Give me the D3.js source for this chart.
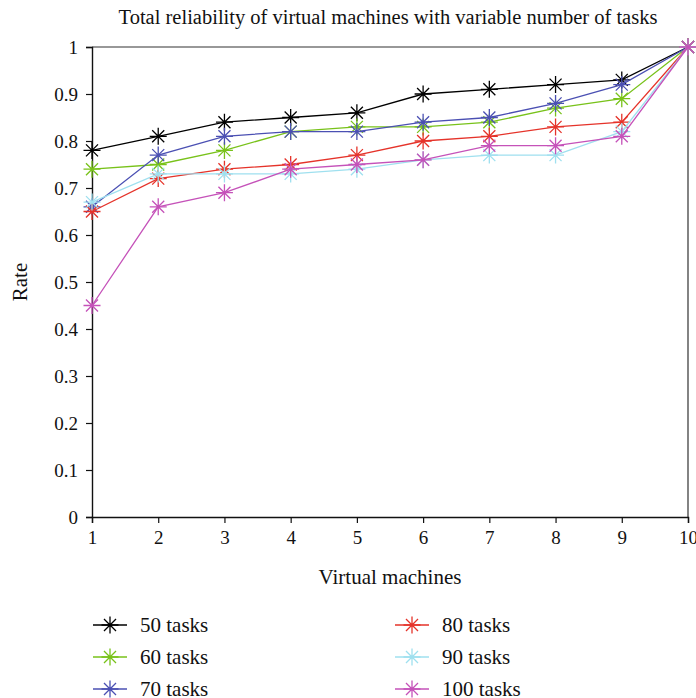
<!DOCTYPE html>
<html>
<head>
<meta charset="utf-8">
<script src="https://cdn.jsdelivr.net/npm/d3@7"></script>
<style>
  body { margin: 0; background: #fff; }
  text { font-family: "Liberation Serif", "DejaVu Serif", serif; fill: #111; }
</style>
</head>
<body>
<div id="viz"></div>
<script>
  var machines = [1, 2, 3, 4, 5, 6, 7, 8, 9, 10];
  var seriesNames = ['50 tasks', '60 tasks', '70 tasks', '80 tasks', '90 tasks', '100 tasks'];
  var seriesColors = ['#000000', '#78c21a', '#4b50b3', '#e5332a', '#9fe0ef', '#c552b9'];
  var tasks50 = [0.78, 0.81, 0.84, 0.85, 0.86, 0.90, 0.91, 0.92, 0.93, 1.0];
  var tasks60 = [0.74, 0.75, 0.78, 0.82, 0.83, 0.83, 0.84, 0.87, 0.89, 1.0];
  var tasks70 = [0.66, 0.77, 0.81, 0.82, 0.82, 0.84, 0.85, 0.88, 0.92, 1.0];
  var tasks80 = [0.65, 0.72, 0.74, 0.75, 0.77, 0.80, 0.81, 0.83, 0.84, 1.0];
  var tasks90 = [0.67, 0.73, 0.73, 0.73, 0.74, 0.76, 0.77, 0.77, 0.82, 1.0];
  var tasks100 = [0.45, 0.66, 0.69, 0.74, 0.75, 0.76, 0.79, 0.79, 0.81, 1.0];
  var yTicks = [0, 0.1, 0.2, 0.3, 0.4, 0.5, 0.6, 0.7, 0.8, 0.9, 1];

  var allSeries = [tasks50, tasks60, tasks70, tasks80, tasks90, tasks100];

  (function () {
    var W = 696, H = 698;
    var pLeft = 92, pRight = 688, pTop = 47, pBottom = 517;

    var svg = d3.select('#viz').append('svg')
      .attr('width', W)
      .attr('height', H);

    var x = d3.scaleLinear().domain([1, 10]).range([pLeft, pRight]);
    var y = d3.scaleLinear().domain([0, 1]).range([pBottom, pTop]);

    // asterisk marker path
    function star(r) {
      var p = '';
      for (var i = 0; i < 4; i++) {
        var a = i * Math.PI / 4;
        var dx = r * Math.cos(a), dy = r * Math.sin(a);
        p += 'M' + (-dx) + ',' + (-dy) + 'L' + dx + ',' + dy;
      }
      return p;
    }

    // frame: top and right lines
    svg.append('path')
      .attr('d', 'M' + pLeft + ',' + pTop + 'H' + pRight + 'V' + pBottom)
      .attr('fill', 'none')
      .attr('stroke', '#333')
      .attr('stroke-width', 1.2);

    var yAxis = svg.append('g')
      .attr('transform', 'translate(' + pLeft + ',0)')
      .call(d3.axisLeft(y).tickValues(yTicks).tickSize(6).tickPadding(8)
        .tickFormat(function (d) { return d === 0 || d === 1 ? d : d3.format('.1f')(d); }));
    var xAxis = svg.append('g')
      .attr('transform', 'translate(0,' + pBottom + ')')
      .call(d3.axisBottom(x).tickValues(machines).tickSize(6).tickPadding(5));

    [xAxis, yAxis].forEach(function (g) {
      g.select('.domain').attr('stroke', '#111').attr('stroke-width', 1.4);
      g.selectAll('.tick line').attr('stroke', '#111').attr('stroke-width', 1.2);
      g.selectAll('text')
        .style('font-family', '"Liberation Serif", "DejaVu Serif", serif')
        .style('font-size', '19px')
        .attr('fill', '#111');
    });
    xAxis.selectAll('.tick text').attr('dy', '0.85em');

    var line = d3.line()
      .x(function (d, i) { return x(machines[i]); })
      .y(function (d) { return y(d); });

    allSeries.forEach(function (vals, s) {
      var col = seriesColors[s];
      svg.append('path')
        .datum(vals)
        .attr('d', line)
        .attr('fill', 'none')
        .attr('stroke', col)
        .attr('stroke-width', 1.3);
      svg.selectAll('.m' + s)
        .data(vals)
        .enter()
        .append('path')
        .attr('class', 'm' + s)
        .attr('transform', function (d, i) { return 'translate(' + x(machines[i]) + ',' + y(d) + ')'; })
        .attr('d', star(8.5))
        .attr('stroke', col)
        .attr('stroke-width', 1.3)
        .attr('fill', 'none');
    });

    svg.append('text')
      .attr('x', 388).attr('y', 24)
      .attr('text-anchor', 'middle')
      .style('font-size', '20.5px')
      .text('Total reliability of virtual machines with variable number of tasks');

    svg.append('text')
      .attr('transform', 'translate(27,' + ((pTop + pBottom) / 2) + ') rotate(-90)')
      .attr('text-anchor', 'middle')
      .style('font-size', '21px')
      .text('Rate');

    svg.append('text')
      .attr('x', (pLeft + pRight) / 2).attr('y', 584)
      .attr('text-anchor', 'middle')
      .style('font-size', '21px')
      .text('Virtual machines');

    // legend
    var legend = svg.selectAll('.leg')
      .data(seriesNames)
      .enter()
      .append('g')
      .attr('class', 'leg')
      .attr('transform', function (d, i) {
        return 'translate(' + (i < 3 ? 93 : 395) + ',' + (625 + (i % 3) * 32) + ')';
      });
    legend.append('line')
      .attr('x1', 0).attr('x2', 34)
      .attr('stroke', function (d, i) { return seriesColors[i]; })
      .attr('stroke-width', 1.3);
    legend.append('path')
      .attr('transform', 'translate(17,0)')
      .attr('d', star(8.5))
      .attr('stroke', function (d, i) { return seriesColors[i]; })
      .attr('stroke-width', 1.3)
      .attr('fill', 'none');
    legend.append('text')
      .attr('x', 47).attr('y', 7)
      .style('font-size', '21px')
      .text(function (d) { return d; });
  })();
</script>
</body>
</html>
